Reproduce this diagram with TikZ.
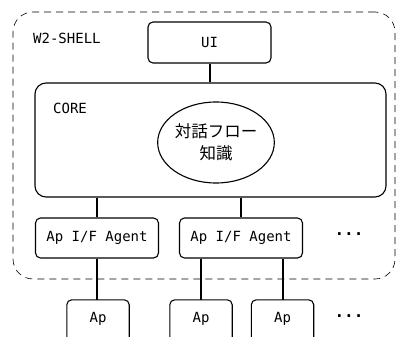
\documentclass[tikz,border=0pt]{standalone}
\usepackage{fontspec}
\setmainfont{DejaVu Sans}
\setmonofont{DejaVu Sans Mono}
\newfontfamily\jpfont{Noto Sans CJK JP}
\usetikzlibrary{positioning, shapes.geometric}

\begin{document}
\begin{tikzpicture}[
  x=1pt, y=-1pt,
  txt/.style={font=\ttfamily\fontsize{14}{16}\selectfont},
  box/.style={draw, txt, line width=1.1pt, rounded corners=5pt, inner sep=0pt},
  agentbox/.style={box, minimum width=123pt, minimum height=40pt},
  apbox/.style={txt, minimum width=62pt, minimum height=37pt, inner sep=0pt},
  lbl/.style={txt, anchor=west, inner sep=0pt},
  link/.style={line width=2pt},
  dots/.style={font=\ttfamily\bfseries\fontsize{16}{16}\selectfont, inner sep=0pt},
]
  \useasboundingbox (0,0) rectangle (399,337);
  % outer shell
  \node[draw, dash pattern=on 7pt off 5pt, line width=0.6pt, rounded corners=20pt,
        minimum width=382pt, minimum height=267pt, inner sep=0pt] (shell) at (204,145.5) {};
  \node[lbl] (shelllbl) at (33,38) {W2-SHELL};
  \node[box, minimum width=123pt, minimum height=41pt] (ui) at (209.5,42.5) {UI};
  % core
  \node[box, rounded corners=11pt, minimum width=351pt, minimum height=114pt] (core) at (210.5,140) {};
  \node[lbl] (corelbl) at (53,108) {CORE};
  \node[draw, ellipse, line width=1.1pt, minimum width=112pt, minimum height=81pt,
        inner sep=0pt, align=center, font=\jpfont\fontsize{16.5}{22}\selectfont] (know) at (216,142.5)
        {対話フロー\\知識};
  % agents
  \node[agentbox] (agentA) at (97,238) {Ap I/F Agent};
  \node[agentbox] (agentB) at (241,238) {Ap I/F Agent};
  \node[dots] (dotsA) at (349,234) {...};
  % applications
  \node[apbox] (apA) at (98,318.5) {Ap};
  \node[apbox] (apB) at (201,318.5) {Ap};
  \node[apbox] (apC) at (282.5,318.5) {Ap};
  \node[dots] (dotsB) at (349,316) {...};
  \foreach \ap in {apA, apB, apC}
    \draw[line width=1.1pt, rounded corners=5pt] (\ap.south west) |- (\ap.north) -| (\ap.south east);
  % links
  \draw[link] (ui.south) -- (ui.south |- core.north);
  \draw[link] (agentA.north |- core.south) -- (agentA.north);
  \draw[link] (agentB.north |- core.south) -- (agentB.north);
  \draw[link] (agentA.south) -- (agentA.south |- apA.north);
  \draw[link] (apB.north |- agentB.south) -- (apB.north);
  \draw[link] (apC.north |- agentB.south) -- (apC.north);
\end{tikzpicture}
\end{document}
